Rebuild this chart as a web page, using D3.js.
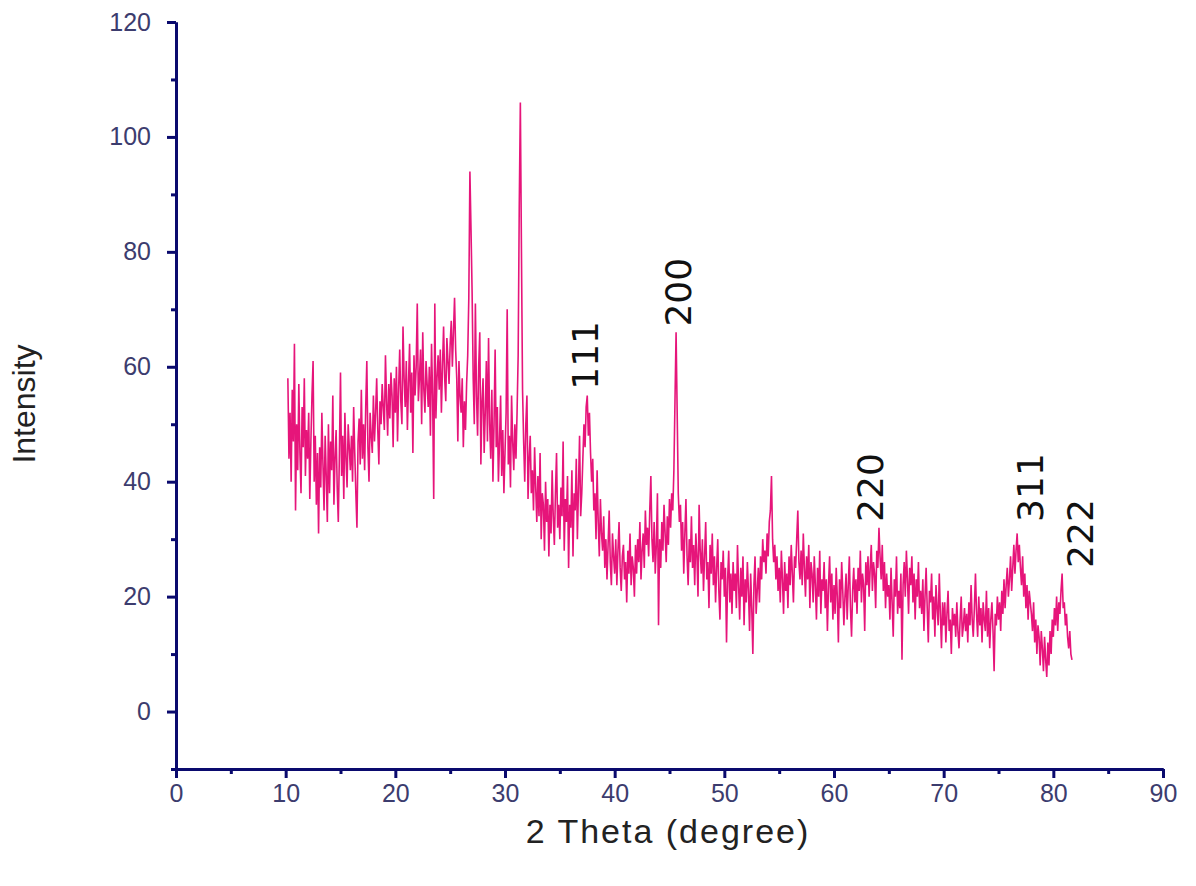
<!DOCTYPE html>
<html>
<head>
<meta charset="utf-8">
<script src="https://cdn.jsdelivr.net/npm/d3@7"></script>
<style>
  body { margin: 0; background: #fff; }
  svg { display: block; }
</style>
</head>
<body>
<svg id="xrd"></svg>
<script>
//XRD pattern - intensity vs 2 theta

//sampling of the scan
const thetaStart = 10.2;
const thetaStep = 0.1;

//intensity, one row per degree
const intensity = [
  58, 44, 52, 40, 56, 47, 64, 35,                 //10.2 - 10.9
  50, 42, 57, 45, 38, 53, 46, 58, 41, 49,         //11
  44, 52, 37, 47, 55, 61, 40, 48, 36, 45,         //12
  31, 46, 39, 52, 43, 35, 48, 41, 33, 50,         //13
  38, 47, 42, 55, 36, 44, 49, 39, 33, 45,         //14
  59, 41, 48, 37, 52, 44, 39, 50, 46, 42,         //15
  48, 40, 53, 45, 38, 32, 47, 51, 43, 56,         //16
  44, 50, 42, 53, 61, 46, 40, 52, 48, 45,         //17
  55, 47, 52, 58, 49, 43, 54, 50, 57, 53,         //18
  49, 62, 54, 48, 57, 51, 59, 55, 46, 58,         //19
  52, 60, 47, 56, 63, 54, 50, 67, 58, 53,         //20
  61, 49, 57, 64, 52, 59, 45, 62, 55, 60,         //21
  71, 54, 58, 63, 50, 66, 56, 52, 61, 57,         //22
  53, 60, 48, 64, 55, 37, 71, 51, 58, 62,         //23
  56, 63, 52, 60, 67, 58, 54, 65, 61, 57,         //24
  64, 68, 60, 66, 72, 63, 58, 47, 61, 55,         //25
  52, 58, 46, 54, 49, 57, 62, 72, 94, 84,         //26
  73, 58, 50, 71, 55, 48, 60, 66, 43, 54,         //27
  58, 45, 52, 61, 47, 65, 50, 44, 56, 40,         //28
  50, 63, 46, 53, 40, 47, 55, 41, 49, 38,         //29
  45, 52, 70, 43, 48, 39, 55, 47, 42, 50,         //30
  44, 52, 62, 88, 106, 80, 56, 47, 40, 50,        //31
  55, 37, 44, 48, 38, 42, 35, 46, 39, 33,         //32
  41, 34, 45, 30, 38, 36, 28, 40, 33, 37,         //33
  27, 36, 31, 42, 34, 29, 38, 45, 32, 36,         //34
  30, 39, 34, 47, 28, 37, 33, 41, 25, 36,         //35
  32, 42, 27, 38, 35, 44, 30, 39, 48, 34,         //36
  38, 44, 50, 46, 53, 55, 48, 52, 45, 40,         //37
  44, 35, 38, 30, 42, 33, 27, 37, 31, 28,         //38
  34, 25, 30, 23, 29, 35, 26, 22, 31, 27,         //39
  24, 30, 22, 28, 33, 25, 21, 27, 29, 23,         //40
  26, 19, 28, 24, 31, 22, 27, 25, 20, 29,         //41
  24, 30, 26, 33, 23, 28, 31, 25, 35, 29,         //42
  32, 27, 35, 41, 30, 26, 33, 24, 29, 38,         //43
  15, 30, 25, 33, 28, 36, 31, 26, 34, 29,         //44
  37, 32, 38, 35, 42, 54, 66, 52, 38, 33,         //45
  36, 28, 33, 24, 31, 37, 27, 22, 30, 26,         //46
  34, 25, 29, 22, 31, 27, 20, 36, 28, 24,         //47
  30, 21, 27, 33, 23, 26, 18, 29, 24, 31,         //48
  22, 27, 19, 25, 30, 21, 16, 26, 23, 28,         //49
  20, 25, 12, 23, 28, 19, 24, 17, 26, 21,         //50
  24, 18, 29, 22, 16, 25, 20, 27, 15, 23,         //51
  19, 26, 21, 14, 24, 18, 10, 22, 27, 17,         //52
  21, 25, 19, 27, 23, 30, 26, 28, 24, 31,         //53
  27, 33, 35, 41, 30, 26, 29, 23, 27, 21,         //54
  25, 19, 28, 23, 17, 26, 21, 24, 18, 27,         //55
  22, 29, 24, 19, 27, 25, 30, 35, 26, 23,         //56
  28, 22, 31, 25, 20, 27, 23, 29, 18, 26,         //57
  24, 19, 27, 22, 16, 25, 20, 28, 17, 23,         //58
  21, 26, 18, 23, 14, 22, 27, 19, 24, 16,         //59
  22, 17, 25, 20, 12, 23, 18, 26, 21, 15,         //60
  20, 24, 16, 22, 27, 18, 13, 21, 25, 19,         //61
  23, 17, 25, 21, 28, 19, 24, 22, 14, 26,         //62
  22, 27, 20, 25, 29, 21, 26, 24, 18, 28,         //63
  25, 32, 27, 23, 29, 21, 26, 18, 24, 20,         //64
  22, 16, 25, 19, 13, 23, 20, 27, 17, 21,         //65
  18, 24, 9, 22, 26, 20, 28, 23, 17, 25,          //66
  22, 27, 19, 24, 16, 23, 20, 26, 18, 21,         //67
  17, 23, 14, 20, 25, 18, 12, 21, 19, 24,         //68
  16, 20, 13, 22, 18, 15, 24, 17, 11, 19,         //69
  15, 19, 12, 17, 21, 14, 16, 10, 18, 15,         //70
  17, 13, 19, 14, 11, 16, 20, 13, 15, 18,         //71
  14, 17, 12, 19, 15, 22, 16, 13, 18, 24,         //72
  17, 13, 20, 15, 18, 12, 19, 16, 14, 21,         //73
  13, 18, 11, 16, 19, 14, 7, 17, 15, 20,          //74
  16, 19, 14, 21, 17, 23, 18, 22, 25, 20,         //75
  23, 27, 21, 25, 29, 24, 28, 31, 26, 29,         //76
  25, 22, 27, 20, 24, 18, 22, 16, 21, 19,         //77
  17, 14, 19, 12, 16, 10, 15, 13, 8, 14,          //78
  11, 7, 13, 9, 6, 12, 8, 14, 10, 16,             //79
  13, 18, 15, 20, 14, 19, 17, 21, 24, 18,         //80
  19, 15, 17, 13, 11, 14, 10, 9                   //81.0 - 81.7
];

//axis ticks
const xMajorTicks = [0, 10, 20, 30, 40, 50, 60, 70, 80, 90];
const xMinorTicks = [5, 15, 25, 35, 45, 55, 65, 75, 85];
const yMajorTicks = [0, 20, 40, 60, 80, 100, 120];
const yMinorTicks = [-10, 10, 30, 50, 70, 90, 110];

//miller index labels over the peaks
const peakNames = ["111", "200", "220", "311", "222"];
const peakTheta = [37.3, 45.8, 63.3, 77.9, 82.4];
const peakLabelBase = [56, 67, 33, 33, 25];

const width = 1196;
const height = 886;
const axisColor = "#0a0a6e";
const lineColor = "#e6157a";

const svg = d3.select("#xrd")
              .attr("width", width)
              .attr("height", height);

//scales
const x = d3.scaleLinear()
            .domain([0, 90])
            .range([176, 1163]);

const y = d3.scaleLinear()
            .domain([-10, 120])
            .range([769, 22]);

const data = intensity.map((v, i) => ({theta: thetaStart + i * thetaStep, v: v}));

//the pattern
const line = d3.line()
               .x(d => x(d.theta))
               .y(d => y(d.v));

svg.append("path")
   .datum(data)
   .attr("fill", "none")
   .attr("stroke", lineColor)
   .attr("stroke-width", 1.6)
   .attr("stroke-linejoin", "miter")
   .attr("d", line);

//minor ticks first, then major ones with labels
svg.append("g")
   .attr("transform", `translate(0, ${y(-10)})`)
   .call(d3.axisBottom(x).tickValues(xMinorTicks).tickSize(5).tickFormat("").tickSizeOuter(0));

const xAxis = svg.append("g")
                 .attr("transform", `translate(0, ${y(-10)})`)
                 .call(d3.axisBottom(x).tickValues(xMajorTicks).tickSize(9).tickPadding(6).tickSizeOuter(0));

svg.append("g")
   .attr("transform", `translate(${x(0)}, 0)`)
   .call(d3.axisLeft(y).tickValues(yMinorTicks).tickSize(5).tickFormat("").tickSizeOuter(0));

const yAxis = svg.append("g")
                 .attr("transform", `translate(${x(0)}, 0)`)
                 .call(d3.axisLeft(y).tickValues(yMajorTicks).tickSize(9).tickPadding(16).tickSizeOuter(0));

svg.selectAll(".tick line, .domain")
   .attr("stroke", axisColor)
   .attr("stroke-width", 3);

svg.selectAll(".tick text")
   .attr("fill", "#3c3c6e")
   .style("font-family", "Liberation Sans, Arial, sans-serif")
   .style("font-size", "25px");

//axis titles
svg.append("text")
   .attr("x", 668)
   .attr("y", 843)
   .attr("text-anchor", "middle")
   .attr("fill", "#222")
   .style("font-family", "Liberation Sans, Arial, sans-serif")
   .style("font-size", "34px")
   .style("letter-spacing", "2px")
   .text("2 Theta (degree)");

svg.append("text")
   .attr("transform", "translate(35, 404) rotate(-90)")
   .attr("text-anchor", "middle")
   .attr("fill", "#222")
   .style("font-family", "Liberation Sans, Arial, sans-serif")
   .style("font-size", "32px")
   .text("Intensity");

//peak labels, rotated
svg.selectAll(".peak-label")
   .data(peakNames)
   .enter().append("text")
   .attr("class", "peak-label")
   .attr("transform", (d, i) => `translate(${x(peakTheta[i])}, ${y(peakLabelBase[i])}) rotate(-90)`)
   .attr("dy", "0.36em")
   .attr("fill", "#111")
   .style("font-family", "DejaVu Sans, sans-serif")
   .style("font-size", "36px")
   .text(d => d);
</script>
</body>
</html>
